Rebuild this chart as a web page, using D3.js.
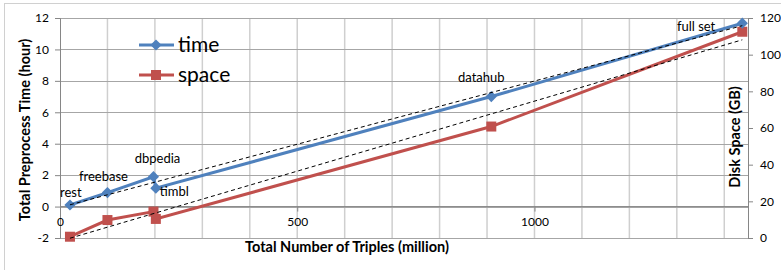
<!DOCTYPE html>
<html>
<head>
<meta charset="utf-8">
<script src="https://cdn.jsdelivr.net/npm/d3@7"></script>
<style>
  body { margin: 0; background: #fff; }
  text { font-family: Lato, "Open Sans", sans-serif; fill: #000; }
</style>
</head>
<body>
<div id="root"></div>
<script>
// data
const names = ["rest", "freebase", "dbpedia", "timbl", "datahub", "full set"];
const triples = [21, 100, 197, 202, 909, 1438];     // million
const hours = [0.1, 0.89, 1.9, 1.17, 7.0, 11.67];   // left axis
const diskGB = [0.7, 9.8, 14.4, 10.4, 60.8, 112.5]; // right axis

const xTicks = [0, 500, 1000];
const yLeftTicks = [-2, 0, 2, 4, 6, 8, 10, 12];
const yRightTicks = [0, 20, 40, 60, 80, 100, 120];

// label placement relative to the time point: dx, dy, anchor
const labelPos = [
  [-10, -8, "start"], [-4, -12, "middle"], [4, -14, "middle"],
  [4, 8, "start"], [-10, -15, "middle"], [-27, 8, "end"]
];

const W = 781, H = 270;
const margin = {top: 18, right: 33, bottom: 32, left: 60};
const width = W - margin.left - margin.right,
      height = H - margin.top - margin.bottom;

const blue = "#4f81bd", red = "#c0504d";
const plain = d => String(d);

const svg = d3.select("#root").append("svg")
  .attr("width", W).attr("height", H);

// outer chart border (only top/left visible)
svg.append("rect")
  .attr("x", 4.5).attr("y", 3.5)
  .attr("width", W + 10).attr("height", H + 10)
  .attr("fill", "none").attr("stroke", "#d0d0d0");

const g = svg.append("g")
  .attr("transform", "translate(" + margin.left + "," + margin.top + ")");

const x = d3.scaleLinear().domain([0, 1450]).range([0, width]);
const yL = d3.scaleLinear().domain([-2, 12]).range([height, 0]);
const yR = d3.scaleLinear().domain([0, 120]).range([height, 0]);

// vertical gridlines every 100
g.append("g").selectAll("line")
  .data(d3.range(100, 1450, 100))
  .enter().append("line")
  .attr("x1", d => x(d)).attr("x2", d => x(d))
  .attr("y1", 0).attr("y2", height)
  .attr("stroke", "#cfcfcf").attr("stroke-width", 1.5);

// horizontal gridlines
g.append("g").selectAll("line")
  .data(yLeftTicks)
  .enter().append("line")
  .attr("x1", 0).attr("x2", width)
  .attr("y1", d => Math.round(yL(d)) + 0.5).attr("y2", d => Math.round(yL(d)) + 0.5)
  .attr("stroke", "#a6a6a6");

// left axis
const leftAxis = g.append("g")
  .call(d3.axisLeft(yL).tickValues(yLeftTicks).tickFormat(plain).tickSize(5).tickPadding(6));
// right axis
const rightAxis = g.append("g")
  .attr("transform", "translate(" + width + ",0)")
  .call(d3.axisRight(yR).tickValues(yRightTicks).tickFormat(plain).tickSize(5).tickPadding(7));
// x axis crossing at 0 hours
const bottomAxis = g.append("g")
  .attr("transform", "translate(0," + yL(0) + ")")
  .call(d3.axisBottom(x).tickValues(xTicks).tickFormat(plain).tickSize(5).tickPadding(6));

[leftAxis, rightAxis, bottomAxis].forEach(a => {
  a.select(".domain").attr("stroke", "#868686");
  a.selectAll(".tick line").attr("stroke", "#868686");
  a.selectAll("text").style("font-size", "12px").style("font-family", "Lato, sans-serif");
});
bottomAxis.select(".domain").attr("d", "M0,0H" + width);

// linear trend lines
function trend(xs, ys) {
  const mx = d3.mean(xs), my = d3.mean(ys);
  const sxy = d3.sum(xs, (v, i) => (v - mx) * (ys[i] - my));
  const sxx = d3.sum(xs, v => (v - mx) * (v - mx));
  const b = sxy / sxx, a = my - b * mx;
  const x0 = d3.min(xs), x1 = d3.max(xs);
  return [[x0, a + b * x0], [x1, a + b * x1]];
}

const timePts = triples.map((t, i) => [t, hours[i]]);
const spacePts = triples.map((t, i) => [t, diskGB[i]]);

const lineL = d3.line().x(d => x(d[0])).y(d => yL(d[1]));
const lineR = d3.line().x(d => x(d[0])).y(d => yR(d[1]));

g.append("path").datum(spacePts)
  .attr("d", lineR).attr("fill", "none")
  .attr("stroke", red).attr("stroke-width", 3);
g.append("path").datum(timePts)
  .attr("d", lineL).attr("fill", "none")
  .attr("stroke", blue).attr("stroke-width", 3);

g.append("g").selectAll("rect")
  .data(spacePts).enter().append("rect")
  .attr("x", d => x(d[0]) - 5).attr("y", d => yR(d[1]) - 5)
  .attr("width", 10).attr("height", 10)
  .attr("fill", red);

const diamond = d3.symbol().type(d3.symbolDiamond2).size(80);
g.append("g").selectAll("path")
  .data(timePts).enter().append("path")
  .attr("d", diamond)
  .attr("transform", d => "translate(" + x(d[0]) + "," + yL(d[1]) + ")")
  .attr("fill", blue);

g.append("path").datum(trend(triples, hours))
  .attr("d", lineL).attr("fill", "none")
  .attr("stroke", "#000").attr("stroke-width", 1).attr("stroke-dasharray", "4,3");
g.append("path").datum(trend(triples, diskGB))
  .attr("d", lineR).attr("fill", "none")
  .attr("stroke", "#000").attr("stroke-width", 1).attr("stroke-dasharray", "4,3");

// point labels
g.append("g").selectAll("text")
  .data(names).enter().append("text")
  .attr("x", (d, i) => x(triples[i]) + labelPos[i][0])
  .attr("y", (d, i) => yL(hours[i]) + labelPos[i][1])
  .attr("text-anchor", (d, i) => labelPos[i][2])
  .style("font-size", "13px")
  .text(d => d);

// legend
const legend = svg.append("g").attr("transform", "translate(139,45)");
const items = [{name: "time", color: blue, shape: "diamond"}, {name: "space", color: red, shape: "square"}];
items.forEach((it, i) => {
  const row = legend.append("g").attr("transform", "translate(0," + i * 30 + ")");
  row.append("line").attr("x1", 0).attr("x2", 35).attr("y1", 0).attr("y2", 0)
    .attr("stroke", it.color).attr("stroke-width", 3);
  if (it.shape === "diamond") {
    row.append("path").attr("d", diamond).attr("transform", "translate(17,0)").attr("fill", it.color);
  } else {
    row.append("rect").attr("x", 12).attr("y", -5).attr("width", 10).attr("height", 10).attr("fill", it.color);
  }
  row.append("text").attr("x", 39).attr("y", 7).style("font-size", "21px").text(it.name);
});

// axis titles
svg.append("text")
  .attr("transform", "translate(30," + (margin.top + height / 2 + 2) + ") rotate(-90)")
  .attr("text-anchor", "middle")
  .style("font-size", "14.5px").style("font-weight", "bold")
  .text("Total Preprocess Time (hour)");
svg.append("text")
  .attr("transform", "translate(740,137) rotate(-90)")
  .attr("text-anchor", "middle")
  .style("font-size", "14.5px").style("font-weight", "bold")
  .text("Disk Space (GB)");
svg.append("text")
  .attr("x", 347).attr("y", 252)
  .attr("text-anchor", "middle")
  .style("font-size", "14.5px").style("font-weight", "bold")
  .text("Total Number of Triples (million)");
</script>
</body>
</html>
